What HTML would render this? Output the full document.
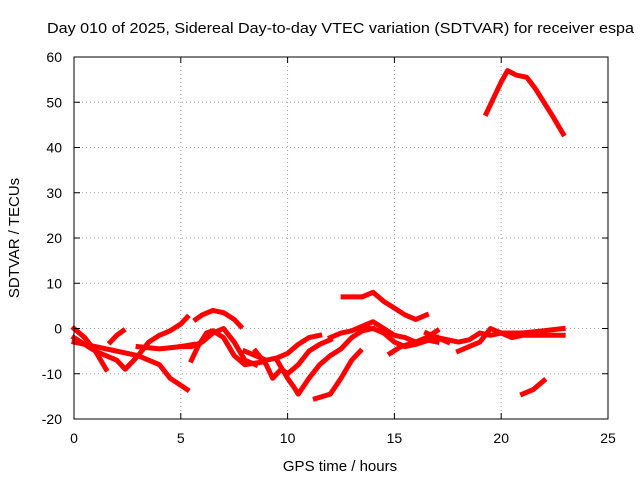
<!DOCTYPE html>
<html><head><meta charset="utf-8"><style>
body{margin:0;background:#fff}
svg{display:block;font-family:"Liberation Sans",sans-serif}
</style></head><body>
<svg id="chart" width="640" height="480" viewBox="0 0 640 480">
<rect width="640" height="480" fill="#fff"/>
<g id="grid"></g>
<g id="series"></g>
<rect x="74" y="57" width="534" height="362" fill="none" stroke="#000" stroke-width="1"/>
<g id="ticks"></g>
<text x="47" y="33" font-size="15" textLength="587" lengthAdjust="spacingAndGlyphs">Day 010 of 2025, Sidereal Day-to-day VTEC variation (SDTVAR) for receiver espa</text>
<text x="340" y="471" font-size="15" text-anchor="middle">GPS time / hours</text>
<text transform="translate(19,238) rotate(-90)" font-size="15" text-anchor="middle">SDTVAR / TECUs</text>
</svg>
<script>
const xTicks=[0,5,10,15,20,25];
const yTicks=[-20,-10,0,10,20,30,40,50,60];
const t1=[19.3,19.6,20.0,20.3,20.7,21.2,21.6,22.0,22.4,22.9], v1=[47.5,50.5,54.5,57,56,55.5,53,50,47,43];
const t2=[21,21.5,22], v2=[-14.5,-13.5,-11.5];
const t3=[0,0.5,1,1.5], v3=[0,-2,-5,-9];
const t4=[0,1,2,3,4,4.5,5.3], v4=[-3,-4,-5,-6,-8,-11,-13.5];
const t5=[0,1,2,2.4,3,3.5,4,4.5,5,5.3], v5=[-2,-5,-7,-9,-6,-3,-1.5,-0.5,1,2.5];
const t6=[1.7,2,2.3], v6=[-3,-1.5,-0.5];
const t7=[5.0,5.5,6,6.5,7,7.5,8,8.5], v7=[-4,-4,-3,-1,0,-3,-7,-8];
const t8=[5.5,5.8,6.2,6.5,7,7.5,8,8.7], v8=[-7,-4,-1,-0.5,-2,-6,-8,-7.5];
const t9=[5.7,6,6.5,7,7.5,7.8], v9=[2,3,4,3.5,2,0.5];
const t10=[3,4,5,5.6], v10=[-4,-4.5,-4,-3.5];
const t11=[8,8.5,9,9.5,10,10.5,11,11.5], v11=[-5,-6,-7,-6.5,-5.5,-3.5,-2,-1.5];
const t12=[8.5,9,9.3,9.7,10,10.5,11,11.5,12], v12=[-5,-8,-11,-9,-10,-8,-5,-3.5,-2.5];
const t13=[9.5,10,10.3,10.5,11,11.5,12,12.5,13,13.5,14], v13=[-7,-11,-13,-14.5,-11,-8,-6,-4.5,-2,-0.5,0];
const t14=[11.3,12,12.5,13,13.4], v14=[-15.5,-14.5,-11,-7,-5];
const t15=[12.6,13,13.5,14,14.5,15,15.5,16,16.5], v15=[7,7,7,8,6,4.5,3,2,3];
const t16=[12,12.5,13,13.5,14,14.5,15,15.5,16,16.5,17], v16=[-2,-1,-0.5,0.5,1.5,0,-1.5,-2,-3,-2.5,-3];
const t17=[13.5,14,14.5,15,15.5,16,17], v17=[0,0,-1,-3,-4,-3.5,-2];
const t18=[14.8,15.3,16,16.5,17], v18=[-5.5,-4,-3,-2,-0.5];
const t19=[17,17.5,18,18.5,19,19.5,20,21,22,22.9], v19=[-2,-2.5,-3,-2.5,-1,-1.5,-1,-1,-0.5,0];
const t20=[18,18.5,19,19.5,20,20.5,21,22,22.9], v20=[-5,-4,-3,0,-1,-2,-1.5,-1.5,-1.5];
const t21=[16.5,17,17.5], v21=[-1,-2,-3];
const tracks=[[t1,v1],[t2,v2],[t3,v3],[t4,v4],[t5,v5],[t6,v6],[t7,v7],[t8,v8],[t9,v9],[t10,v10],[t11,v11],[t12,v12],[t13,v13],[t14,v14],[t15,v15],[t16,v16],[t17,v17],[t18,v18],[t19,v19],[t20,v20],[t21,v21]];
const NS='http://www.w3.org/2000/svg';
const X0=74,X1=608,Y0=419,Y1=57;
function xs(t){return X0+(t-0)/(25-0)*(X1-X0);}
function ys(v){return Y0-(v+20)/80*(Y0-Y1);}
const grid=document.getElementById('grid'),ticks=document.getElementById('ticks'),series=document.getElementById('series');
function mk(tag,attrs,parent){const e=document.createElementNS(NS,tag);for(const k in attrs)e.setAttribute(k,attrs[k]);parent.appendChild(e);return e;}
xTicks.forEach(t=>{
  const x=xs(t);
  if(t>0&&t<25){const g=mk('line',{x1:x,x2:x,y1:Y0,y2:Y1,stroke:'#a0a0a0','stroke-dasharray':'1,3'},grid);
  
  }
  const a=mk('line',{x1:x,x2:x,y1:Y0,y2:Y0-6,stroke:'#000'},ticks);
  
  
  const b=mk('line',{x1:x,x2:x,y1:Y1,y2:Y1+6,stroke:'#000'},ticks);
  
  
  const l=mk('text',{x:x,y:443,'font-size':14,'text-anchor':'middle'},ticks);l.textContent=t;
  
  
});
yTicks.forEach(v=>{
  const y=ys(v);
  if(v>-20&&v<60){const g=mk('line',{x1:X0,x2:X1,y1:y,y2:y,stroke:'#a0a0a0','stroke-dasharray':'1,3'},grid);
  
  }
  const a=mk('line',{x1:X0,x2:X0+6,y1:y,y2:y,stroke:'#000'},ticks);
  
  
  const b=mk('line',{x1:X1,x2:X1-6,y1:y,y2:y,stroke:'#000'},ticks);
  
  
  const l=mk('text',{x:62,y:y+5,'font-size':14,'text-anchor':'end'},ticks);l.textContent=v;
  
  
});
tracks.forEach(([t,v])=>{
  const pts=t.map((ti,i)=>xs(ti)+','+ys(v[i])).join(' ');
  const p=mk('polyline',{points:pts,fill:'none',stroke:'#f00','stroke-width':5,'stroke-linejoin':'round','stroke-linecap':'square'},series);
  
  
});
</script>
</body></html>
